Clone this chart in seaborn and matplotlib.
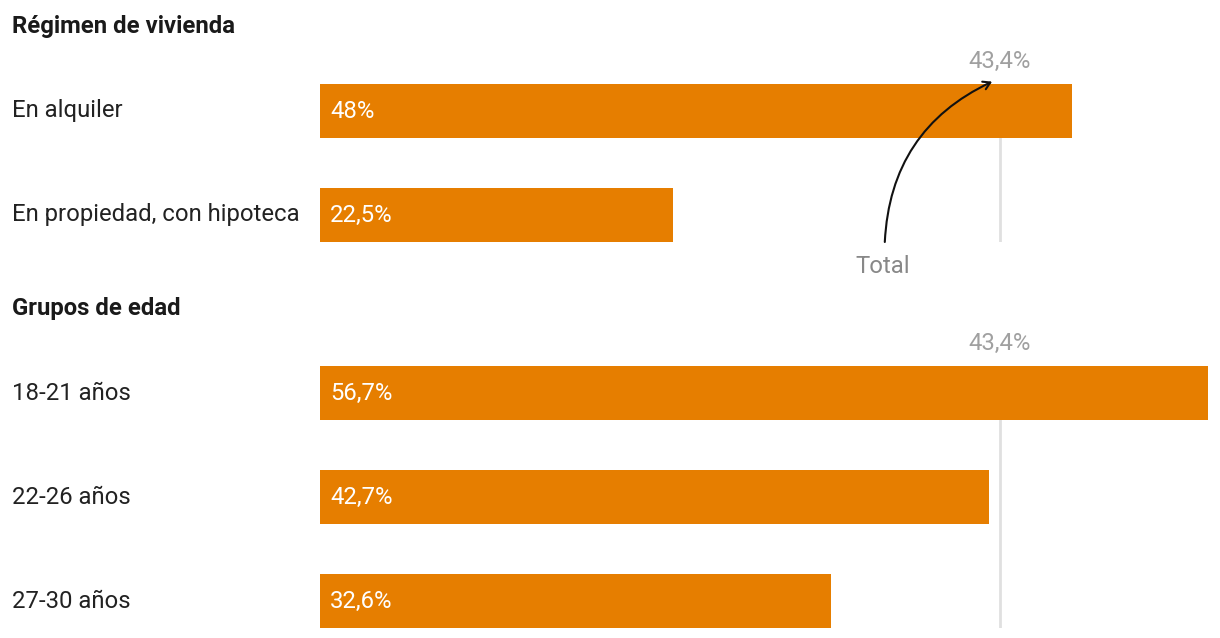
import matplotlib
matplotlib.use("Agg")
import matplotlib.pyplot as plt
import seaborn as sns
import pandas as pd

# data
vivienda_cats = ["En alquiler", "En propiedad, con hipoteca"]
vivienda_vals = [48.0, 22.5]
edad_cats = ["18-21 años", "22-26 años", "27-30 años"]
edad_vals = [56.7, 42.7, 32.6]
TOTAL = 43.4
headers = ["Régimen de vivienda", "Grupos de edad"]

ORANGE = "#e67e00"
W, H = 1220, 638
PX_PER_PCT = 15.667  # bar scale in pixels
FS = 17.2

sns.set_style("white")
plt.rcParams["font.family"] = ["Roboto", "DejaVu Sans"]

fig = plt.figure(figsize=(W / 100, H / 100), dpi=100)

def fmt(v):
    return f"{v:g}".replace(".", ",") + "%"

def draw_group(cats, vals, top_px, header, header_px, arrow=False):
    n = len(cats)
    step = 104
    bar_h = 54
    span = (n - 1) * step + bar_h
    ax = fig.add_axes([320 / W, 1 - (top_px + span) / H, 900 / W, span / H])
    df = pd.DataFrame({"cat": cats, "val": vals})
    sns.barplot(data=df, y="cat", x="val", color=ORANGE, orient="h",
                width=bar_h / step, saturation=1, linewidth=0, ax=ax, zorder=2)
    half = bar_h / step / 2
    ax.set_ylim(n - 1 + half, -half)
    ax.set_xlim(0, 900 / PX_PER_PCT)
    ax.axvline(TOTAL, color="#e0e0e0", lw=2, zorder=0)
    ax.axis("off")

    for i, (c, v) in enumerate(zip(cats, vals)):
        ax.annotate(c, xy=(12 / W, i), xycoords=("figure fraction", "data"),
                    ha="left", va="center", fontsize=FS, color="#222222")
        ax.annotate(fmt(v), xy=(0, i), xytext=(7.2, 0), textcoords="offset points",
                    ha="left", va="center", fontsize=FS, color="white")

    ax.annotate(fmt(TOTAL), xy=(TOTAL, 1), xycoords=("data", "axes fraction"),
                xytext=(0, 16.2), textcoords="offset points",
                ha="center", va="center", fontsize=FS, color="#a0a0a0")

    fig.text(12 / W, 1 - header_px / H, header, ha="left", va="center",
             fontsize=FS, fontweight="bold", color="#1a1a1a")

    if arrow:
        ax.annotate("", xy=(TOTAL - 0.5, 1.015), xycoords=("data", "axes fraction"),
                    xytext=(TOTAL - 7.35, 0), textcoords=("data", "axes fraction"),
                    arrowprops=dict(arrowstyle="->,head_length=0.5,head_width=0.3",
                                    color="#111111", lw=1.5,
                                    connectionstyle="arc3,rad=-0.3",
                                    shrinkA=0, shrinkB=0))
        ax.annotate("Total", xy=(TOTAL - 7.5, 0), xycoords=("data", "axes fraction"),
                    xytext=(0, -17.5), textcoords="offset points",
                    ha="center", va="center", fontsize=FS, color="#888888")
    return ax

draw_group(vivienda_cats, vivienda_vals, 84, headers[0], 27, arrow=True)
draw_group(edad_cats, edad_vals, 366, headers[1], 308)

fig.savefig("out.png", dpi=100, facecolor="white")
